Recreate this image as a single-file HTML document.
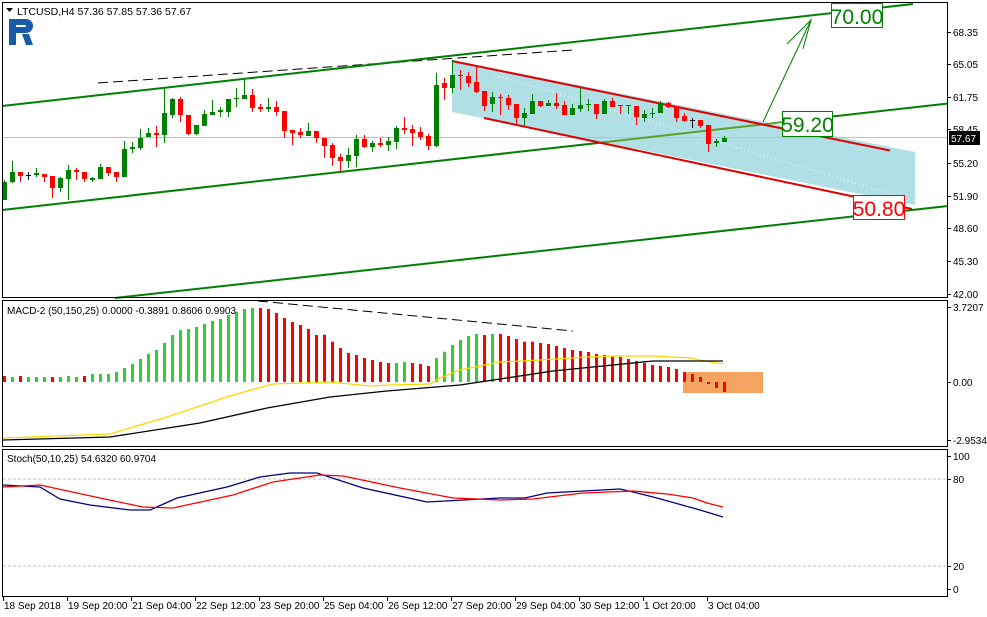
<!DOCTYPE html>
<html><head><meta charset="utf-8"><style>
body{margin:0;background:#fff;}
svg{display:block;font-family:"Liberation Sans",sans-serif;}
</style></head><body>
<svg id="s" width="987" height="617" xmlns="http://www.w3.org/2000/svg">
<rect width="987" height="617" fill="#fff"/>
<!-- main panel background elements -->
<polygon points="452,60 915,152 915,205 452,112" fill="#b0dfe5"/>
<line x1="2" y1="137.5" x2="948" y2="137.5" stroke="#c0c0c0" stroke-width="1"/>
<line x1="495" y1="75" x2="912" y2="200" stroke="#fff" stroke-width="1" stroke-dasharray="1,3"/>
<line x1="98" y1="83" x2="573" y2="50" stroke="#000" stroke-width="1" stroke-dasharray="10,5"/>
<line x1="2" y1="106" x2="913" y2="4" stroke="#008000" stroke-width="2"/>
<line x1="2" y1="210" x2="600" y2="142.7" stroke="#008000" stroke-width="2"/>
<line x1="600" y1="142.7" x2="790" y2="121.3" stroke="#5aa02c" stroke-width="2"/>
<line x1="790" y1="121.3" x2="948" y2="103.5" stroke="#008000" stroke-width="2"/>
<line x1="115" y1="298" x2="948" y2="206" stroke="#008000" stroke-width="2"/>
<line x1="452" y1="61" x2="890" y2="150.5" stroke="#e00000" stroke-width="2"/>
<line x1="484" y1="118" x2="912" y2="209" stroke="#e00000" stroke-width="2"/>
<g id="candles"></g>
<polyline points="763,122 811,20" stroke="#008000" fill="none" stroke-width="1"/>
<polyline points="787,44 811,20 803,49" stroke="#008000" fill="none" stroke-width="1"/>
<rect x="831.5" y="3.5" width="51" height="24" fill="#fff" stroke="#008000"/>
<text x="857" y="24" font-size="21" fill="#008000" text-anchor="middle">70.00</text>
<rect x="782.5" y="111.5" width="50" height="25" fill="#fff" stroke="#008000"/>
<text x="807.5" y="132" font-size="21" fill="#008000" text-anchor="middle">59.20</text>
<rect x="853.5" y="195.5" width="51" height="24" fill="#fff" stroke="#ff0000"/>
<text x="879" y="216" font-size="21" fill="#ff0000" text-anchor="middle">50.80</text>
<!-- title & logo -->
<polygon points="6,8 13,8 9.5,12" fill="#000"/>
<text x="17" y="15" font-size="10.5" fill="#000">LTCUSD,H4  57.36 57.85 57.36 57.67</text>
<path d="M9,19 h17 a7,7 0 0 1 0,14 h-10 v12 h-7z M16,25 v2 h9 a1,1 0 0 0 0,-2z" fill="#1a5aa8" fill-rule="evenodd"/>
<polygon points="22,34 29,34 33,45 26,45" fill="#1a5aa8"/>
<!-- MACD -->
<g id="hist"></g>
<rect x="683" y="372" width="80" height="21" fill="#f4a460"/>
<g id="histb"></g>
<polyline fill="none" stroke="#ffd700" stroke-width="1.3" points="3,438 110,434 167,417 233,395 273,384 330,382 370,386 390,385 430,384 440,378 460,370 480,366 500,362 540,360 587,357 620,356 653,356 690,358 700,360 723,364"/>
<polyline fill="none" stroke="#000" stroke-width="1.3" points="3,440 110,437 200,423 267,408 330,397 387,391 460,385 500,379 553,371 603,366 653,361 723,361"/>
<line x1="258" y1="301" x2="573" y2="331" stroke="#000" stroke-dasharray="10,5"/>
<text x="7" y="314" font-size="10" fill="#000">MACD-2 (50,150,25) 0.0000 -0.3891 0.8606 0.9903</text>
<!-- Stoch -->
<line x1="3" y1="479" x2="946" y2="479" stroke="#c0c0c0" stroke-dasharray="3,2"/>
<line x1="3" y1="566" x2="946" y2="566" stroke="#c0c0c0" stroke-dasharray="3,2"/>
<polyline fill="none" stroke="#000080" stroke-width="1.3" points="3,485 40,487 60,499 90,505 130,510 150,510 177,498 227,487 260,477 290,473 317,473 363,488 427,502 500,498 525,498 547,493 620,489 633,492 657,498 700,510 723,517"/>
<polyline fill="none" stroke="#ff0000" stroke-width="1.3" points="3,487 40,485 100,498 143,507 173,508 233,495 273,482 320,475 343,476 400,488 453,498 500,500 533,499 583,493 633,491 667,494 693,498 707,503 723,507"/>
<text x="7" y="462" font-size="10" fill="#000">Stoch(50,10,25) 54.6320 60.9704</text>
<!-- frames -->
<g fill="none" stroke="#000" stroke-width="1">
<rect x="2.5" y="2.5" width="945" height="295"/>
<rect x="2.5" y="300.5" width="945" height="146"/>
<rect x="2.5" y="449.5" width="945" height="147"/>
</g>
<g id="axis" font-size="10" fill="#000"></g>
<rect x="949" y="131" width="31" height="14" fill="#000"/>
<text x="951" y="142" font-size="10" fill="#fff">57.67</text>
</svg>
<script>
var NS="http://www.w3.org/2000/svg";
function el(p,t,a){var e=document.createElementNS(NS,t);for(var k in a)e.setAttribute(k,a[k]);p.appendChild(e);return e;}
var C=[["g",182,200,180,200],["g",172,182,161,183],["r",172,176,172,182],["k",175,175,172,180],["g",173,175,168,177],["r",174,177,174,182],["r",176,188,176,198],["g",178,188,177,192],["g",170,179,165,200],["r",170,172,168,180],["r",172,179,172,182],["g",178,180,177,182],["g",167,179,164,179],["r",167,173,167,176],["r",172,177,172,182],["g",149,177,141,177],["g",147,149,142,153],["g",138,148,129,150],["g",133,137,128,137],["r",133,135,126,147],["g",113,135,88,143],["g",99,115,98,118],["r",99,115,97,122],["r",115,134,115,135],["g",125,134,125,135],["g",114,126,110,126],["g",112,115,100,115],["g",110,112,107,117],["g",99,112,99,117],["g",98,99,88,107],["g",95,99,79,99],["r",95,108,89,112],["r",107,109,104,112],["g",107,109,98,112],["r",107,112,101,116],["r",111,131,111,138],["r",130,133,130,145],["r",132,135,128,138],["g",131,136,123,136],["r",131,138,131,143],["r",138,146,138,158],["r",145,158,143,166],["r",157,161,154,172],["g",155,161,148,168],["g",139,156,135,167],["r",139,147,135,148],["g",143,147,141,152],["r",143,145,138,147],["g",141,145,137,151],["g",128,142,126,149],["r",128,130,117,134],["r",129,133,125,146],["r",132,137,127,140],["r",136,146,134,150],["g",85,146,73,147],["r",83,88,78,100],["g",75,88,60,93],["r",75,76,70,90],["r",76,83,72,87],["r",82,92,67,93],["r",91,106,91,111],["g",97,104,92,112],["r",97,98,94,115],["r",98,105,95,110],["r",104,118,104,124],["g",113,118,108,126],["g",101,114,94,114],["r",101,106,101,107],["g",103,106,100,106],["r",103,106,93,109],["r",105,115,101,115],["g",108,115,104,115],["g",105,109,87,112],["g",104,105,99,111],["r",104,114,104,119],["g",101,114,99,114],["r",101,107,98,107],["r",105,106,105,114],["g",105,106,105,114],["r",106,117,106,125],["g",114,118,110,122],["g",113,114,108,118],["g",104,113,101,113],["r",103,107,102,108],["r",106,118,106,122],["r",116,121,113,122],["k",120,120,118,128],["r",120,126,120,128],["r",125,144,125,152],["g",141,143,139,147],["g",138,142,136,142]];
var cg=document.getElementById("candles");
var col={g:"#008000",r:"#ff0000",k:"#000"};
C.forEach(function(c,i){var x=4+8*i;var f=col[c[0]];
el(cg,"rect",{x:x,y:c[3],width:1,height:Math.max(1,c[4]-c[3]),fill:f});
el(cg,"rect",{x:x-2,y:c[1],width:5,height:Math.max(1,c[2]-c[1]),fill:f});});
var H=[376,377,376,377,377,377,377,377,376,377,376,374,374,374,372,368,364,359,354,350,343,335,330,329,327,324,321,319,315,312,309,308,308,309,313,318,322,325,329,335,334.7,341.7,348,353,355,358,360,362,363,363,362,363,364,366,358,351.7,345,340,336,334,335,334,334,336,339,341.7,341.7,343,344,346,348,350,351,352,354,355,356,357,359,361,363,365,366,367,369,372,374,377,384,388,392];
var reds={0:1,2:1,6:1,10:1,51:1,52:1,53:1,60:1,62:1};
var hg=document.getElementById("hist"),hb=document.getElementById("histb");var base=382;
H.forEach(function(t,i){var x=3+8*i;var red=reds[i]||(i>=32&&i<=48)||(i>=63);
var g=i>=85?hb:hg;
var y=Math.min(t,base),h=Math.abs(base-t);
el(g,"rect",{x:x,y:y,width:3,height:Math.max(1,h),fill:red?"#ff0000":"#32cd32"});});
var ax=document.getElementById("axis");
function tick(y,s){el(ax,"line",{x1:948,y1:y+0.5,x2:951,y2:y+0.5,stroke:"#000"});var t=el(ax,"text",{x:953,y:y+4});t.textContent=s;}
[[32,"68.35"],[64,"65.05"],[97,"61.75"],[129,"58.45"],[163,"55.20"],[196,"51.90"],[228,"48.60"],[261,"45.30"],[294,"42.00"],[307,"3.7207"],[382,"0.00"],[440,"-2.9534"],[456,"100"],[479,"80"],[566,"20"],[589,"0"]].forEach(function(a){tick(a[0],a[1]);});
var d=["18 Sep 2018","19 Sep 20:00","21 Sep 04:00","22 Sep 12:00","23 Sep 20:00","25 Sep 04:00","26 Sep 12:00","27 Sep 20:00","29 Sep 04:00","30 Sep 12:00","1 Oct 20:00","3 Oct 04:00"];
d.forEach(function(s,k){var x=3+64*k;el(ax,"line",{x1:x+0.5,y1:597,x2:x+0.5,y2:601,stroke:"#000"});var t=el(ax,"text",{x:x+1,y:609});t.textContent=s;});
</script>
</body></html>
